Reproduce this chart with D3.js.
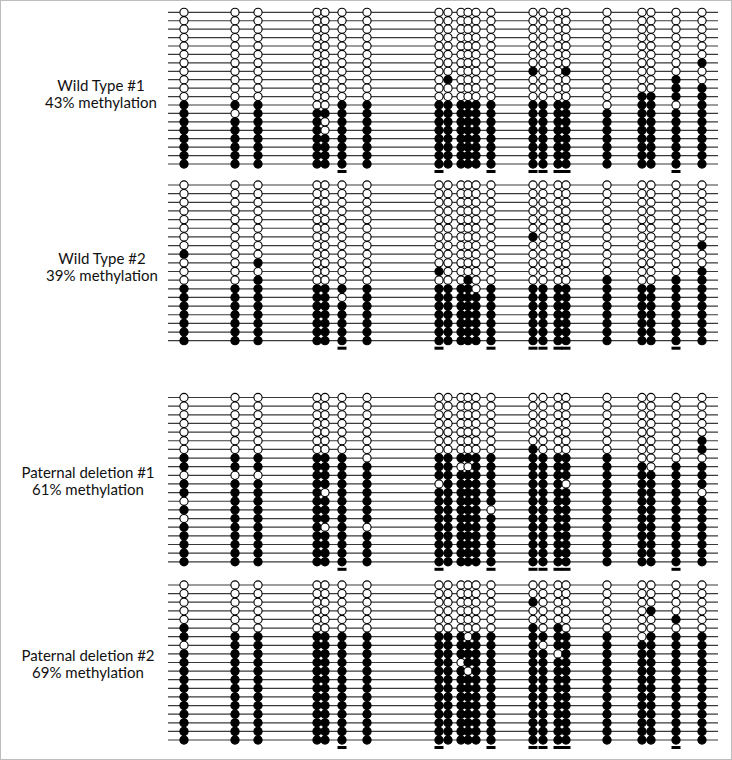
<!DOCTYPE html>
<html>
<head>
<meta charset="utf-8">
<style>
body { margin: 0; background: #fff; }
svg { display: block; }
</style>
</head>
<body>
<svg id="bisulfite"></svg>
<script src="https://d3js.org/d3.v7.min.js"></script>
<script>

var sampleNames = ['Wild Type #1', 'Wild Type #2', 'Paternal deletion #1', 'Paternal deletion #2'];
var methylationPct = [43, 39, 61, 69];

// relative position of each CpG along the amplicon
var cpgSites = [16, 67, 90, 149, 157, 174, 199, 271, 280, 293, 300, 308, 323, 365, 375, 390, 398, 439, 474, 483, 508, 534];
// CpGs flagged with a bar under the last clone
var markedSites = [5, 7, 12, 13, 14, 15, 16, 20];

// one string per CpG site, one char per clone (top to bottom), 1 = methylated
var wildType1 = [
    '0000000000011111111', '0000000000010111111', '0000000000011111111', '0000000000001111111',
    '0000000000001001111', '0000000000011111111', '0000000000011111111', '0000000000011111111',
    '0000000010011111111', '0000000000011111111', '0000000000011111111', '0000000000011111111',
    '0000000000011111111', '0000000100011111111', '0000000000011111111', '0000000000011111111',
    '0000000100011111111', '0000000000001111111', '0000000000111111111', '0000000000111111111',
    '0000000011101111111', '0000001001111111111'
];
var wildType2 = [
    '0000000010001111111', '0000000000001111111', '0000000001011111111', '0000000000001111111',
    '0000000000001111111', '0000000000001011111', '0000000000001111111', '0000000000101111111',
    '0000000000001111111', '0000000000001111111', '0000000000011111111', '0000000000000111111',
    '0000000000001111111', '0000001000001111111', '0000000000001111111', '0000000000001111111',
    '0000000000001111111', '0000000000011111111', '0000000000001111111', '0000000000001111111',
    '0000000000011111111', '0000000100111111111'
];
var paternalDel1 = [
    '00000001101101011111', '00000001101111111111', '00000001101111111111', '00000001111111111111',
    '00000001111011101111', '00000001111111111111', '00000000111111101111', '00000001110111111111',
    '00000001111111111111', '00000001011111111111', '00000001011111111111', '00000001111111111111',
    '00000001111110111111', '00000011111111111111', '00000001111111111111', '00000001111111111111',
    '00000001110111111111', '00000001111111111111', '00000000111111111111', '00000000011111111111',
    '00000000111111111111', '00000110111011111111'
];
var paternalDel2 = [
    '0000011011111111111', '0000001111111111111', '0000001111111111111', '0000001111111111111',
    '0000001111111111111', '0000001111111111111', '0000001111111111111', '0000001111111111111',
    '0000001111111111111', '0000001110111111111', '0000000111011111111', '0000001111111111111',
    '0000001111111111111', '0010011111111111111', '0000001011111111111', '0000011101111111111',
    '0000001111111111111', '0000001111111111111', '0000000111111111111', '0001001111111111111',
    '0000101111111111111', '0000001111111111111'
];
var samples = [wildType1, wildType2, paternalDel1, paternalDel2];

var W = 732, H = 760;
var svg = d3.select('#bisulfite')
    .attr('width', W)
    .attr('height', H);

svg.append('rect')
    .attr('x', 0.5).attr('y', 0.5)
    .attr('width', W - 1).attr('height', H - 1)
    .style('fill', 'none')
    .style('stroke', '#bdbdbd');

var x = d3.scaleLinear().domain([0, 550]).range([168, 718]);

// vertical extent of the clone rows and label anchor of every panel
var panelRows = [[12.3, 164], [185, 340.7], [397.5, 561.8], [585, 740]];
var labelPos = [[101, 91], [102, 264], [88, 478], [88, 661]];

samples.forEach(function(cols, p){
    var nClones = cols[0].length;
    var y = d3.scaleLinear().domain([0, nClones - 1]).range(panelRows[p]);
    var g = svg.append('g').attr('class', 'panel');

    g.selectAll('.clone')
        .data(d3.range(nClones))
        .enter().append('line')
        .attr('class', 'clone')
        .attr('x1', x.range()[0])
        .attr('x2', x.range()[1])
        .attr('y1', function(d){ return y(d); })
        .attr('y2', function(d){ return y(d); })
        .style('stroke', '#3a3a3a')
        .style('stroke-width', 1.2);

    var dots = [];
    cols.forEach(function(s, i){
        for (var r = 0; r < s.length; r++) {
            dots.push({site: i, clone: r, m: s[r] === '1'});
        }
    });

    g.selectAll('.cpg')
        .data(dots)
        .enter().append('circle')
        .attr('class', 'cpg')
        .attr('cx', function(d){ return x(cpgSites[d.site]); })
        .attr('cy', function(d){ return y(d.clone); })
        .attr('r', 4.1)
        .style('fill', function(d){ return d.m ? '#000' : '#fff'; })
        .style('stroke', '#000')
        .style('stroke-width', 1.1);

    g.selectAll('.mark')
        .data(markedSites)
        .enter().append('rect')
        .attr('class', 'mark')
        .attr('x', function(d){ return x(cpgSites[d]) - 4.5; })
        .attr('y', y(nClones - 1) + 6)
        .attr('width', 9)
        .attr('height', 3)
        .style('fill', '#000');

    var label = g.append('text')
        .attr('x', labelPos[p][0])
        .attr('y', labelPos[p][1])
        .attr('text-anchor', 'middle')
        .style('font-family', 'Lato, "Open Sans", sans-serif')
        .style('font-size', '15px')
        .style('fill', '#111');
    label.append('tspan').text(sampleNames[p]);
    label.append('tspan')
        .attr('x', labelPos[p][0])
        .attr('dy', 17)
        .text(methylationPct[p] + '% methylation');
});

</script>
</body>
</html>
